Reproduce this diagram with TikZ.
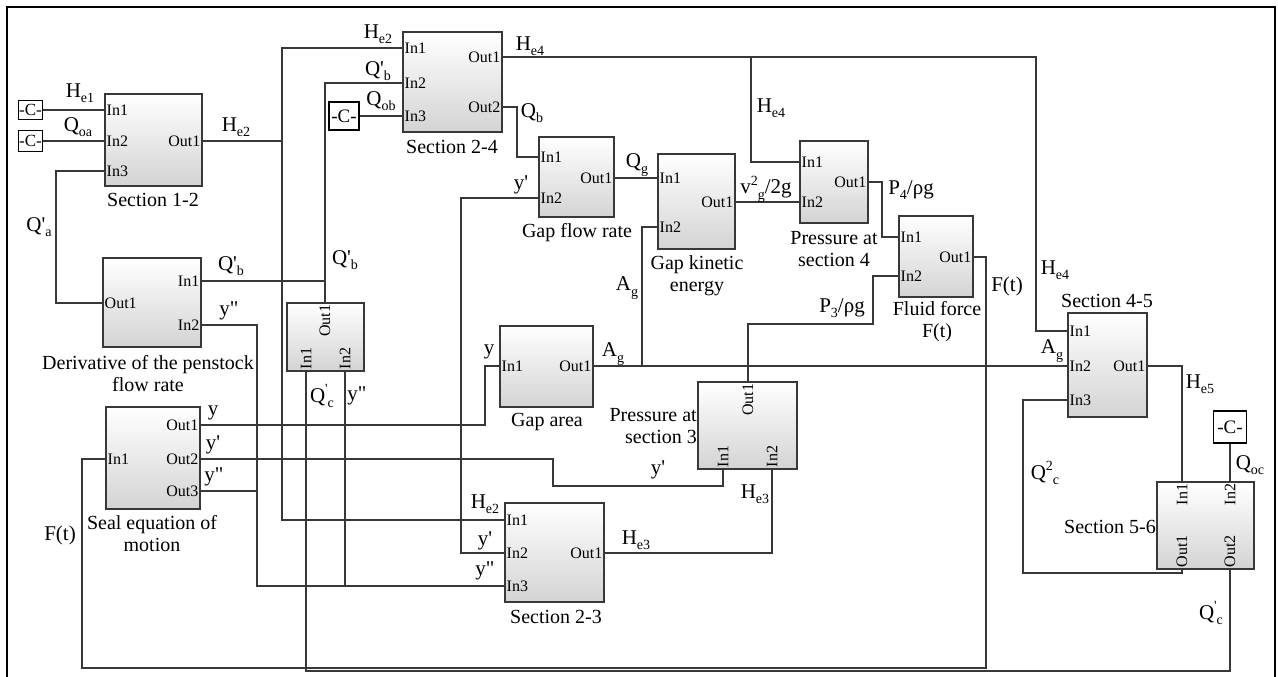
\documentclass[tikz,border=0pt]{standalone}
\usepackage{fontspec}
\setmainfont{Liberation Serif}
\newcommand\sbs[1]{\raisebox{-0.25em}{\fontsize{14}{14}\selectfont #1}}
\newcommand\sps[1]{\raisebox{0.42em}{\fontsize{14}{14}\selectfont #1}}
\begin{document}
\begin{tikzpicture}[x=1pt,y=-1pt,
  wire/.style={draw=black!78,line width=1.1pt},
  blk/.style={draw=black!78,line width=1.2pt,top color=white,bottom color=black!17,inner sep=0pt},
  cbox/.style={draw=black,line width=1.1pt,fill=white,inner sep=0pt,font=\fontsize{17}{17}\selectfont},
  sig/.style={inner sep=0pt,font=\fontsize{21}{24}\selectfont},
  ttl/.style={inner sep=0pt,align=center,font=\fontsize{20}{22}\selectfont},
  prt/.style={inner sep=1.5pt,font=\fontsize{16}{18}\selectfont},
]
\useasboundingbox (0,0) rectangle (1278,677);
\draw[line width=2.5pt] (7,677) -- (7,7) -- (1275,7) -- (1275,677);

% ---------------- blocks ----------------
\node[blk,minimum width=97pt,minimum height=92pt] (s12) at (153.5,140) {};
\node[blk,minimum width=99pt,minimum height=100pt] (s24) at (452.5,82) {};
\node[blk,minimum width=75pt,minimum height=80pt] (gfr) at (576.5,177) {};
\node[blk,minimum width=77pt,minimum height=95pt] (gke) at (696.5,201.5) {};
\node[blk,minimum width=68pt,minimum height=82pt] (p4) at (834,182) {};
\node[blk,minimum width=74pt,minimum height=81pt] (ff) at (936,256.5) {};
\node[blk,minimum width=79pt,minimum height=104pt] (s45) at (1107.5,365) {};
\node[blk,minimum width=98pt,minimum height=89pt] (der) at (152,302.5) {};
\node[blk,minimum width=77pt,minimum height=68pt] (sm) at (325.5,337) {};
\node[blk,minimum width=93pt,minimum height=81pt] (ga) at (546.5,366.5) {};
\node[blk,minimum width=99pt,minimum height=87pt] (p3) at (747.5,425.5) {};
\node[blk,minimum width=94pt,minimum height=102pt] (seal) at (153,458) {};
\node[blk,minimum width=99pt,minimum height=99pt] (s23) at (554.5,552.5) {};
\node[blk,minimum width=97pt,minimum height=87pt] (s56) at (1205.5,525.5) {};

\node[cbox,minimum width=24pt,minimum height=19pt] (c1) at (30.5,110) {-C-};
\node[cbox,minimum width=24pt,minimum height=21pt] (c2) at (30.5,141) {-C-};
\node[cbox,minimum width=30pt,minimum height=28pt,font=\fontsize{19}{19}\selectfont] (c3) at (344,116) {-C-};
\node[cbox,minimum width=33pt,minimum height=32pt,font=\fontsize{19}{19}\selectfont] (c4) at (1230,427) {-C-};

% ---------------- ports ----------------
\coordinate (s12i1) at (105,110); \coordinate (s12i2) at (105,141); \coordinate (s12i3) at (105,171); \coordinate (s12o1) at (202,141);
\coordinate (s24i1) at (403,48); \coordinate (s24i2) at (403,83); \coordinate (s24i3) at (403,116); \coordinate (s24o1) at (502,57); \coordinate (s24o2) at (502,107);
\coordinate (gfri1) at (539,157); \coordinate (gfri2) at (539,198); \coordinate (gfro1) at (614,178);
\coordinate (gkei1) at (658,178); \coordinate (gkei2) at (658,227); \coordinate (gkeo1) at (735,202);
\coordinate (p4i1) at (800,162); \coordinate (p4i2) at (800,202); \coordinate (p4o1) at (868,182);
\coordinate (ffi1) at (899,237); \coordinate (ffi2) at (899,276); \coordinate (ffo1) at (973,257);
\coordinate (s45i1) at (1068,331); \coordinate (s45i2) at (1068,366); \coordinate (s45i3) at (1068,400); \coordinate (s45o1) at (1147,366);
\coordinate (dero1) at (103,303); \coordinate (deri1) at (201,281); \coordinate (deri2) at (201,325);
\coordinate (smo1) at (325,303); \coordinate (smi1) at (306,371); \coordinate (smi2) at (345,371);
\coordinate (gai1) at (500,366); \coordinate (gao1) at (593,366);
\coordinate (p3o1) at (748,382); \coordinate (p3i1) at (723,469); \coordinate (p3i2) at (772,469);
\coordinate (seali1) at (106,459); \coordinate (sealo1) at (200,425); \coordinate (sealo2) at (200,459); \coordinate (sealo3) at (200,491);
\coordinate (s23i1) at (505,520); \coordinate (s23i2) at (505,553); \coordinate (s23i3) at (505,586); \coordinate (s23o1) at (604,553);
\coordinate (s56i1) at (1182,482); \coordinate (s56i2) at (1230,482); \coordinate (s56o1) at (1182,569); \coordinate (s56o2) at (1230,569);

% port labels (horizontal)
\foreach \n/\p/\t in {a1/s12i1/In1,a2/s12i2/In2,a3/s12i3/In3,b1/s24i1/In1,b2/s24i2/In2,b3/s24i3/In3,
  c1/gfri1/In1,c2/gfri2/In2,d1/gkei1/In1,d2/gkei2/In2,e1/p4i1/In1,e2/p4i2/In2,f1/ffi1/In1,f2/ffi2/In2,
  g1/s45i1/In1,g2/s45i2/In2,g3/s45i3/In3,h1/dero1/Out1,k1/gai1/In1,m1/seali1/In1,
  n1/s23i1/In1,n2/s23i2/In2,n3/s23i3/In3}
  {\node[prt,anchor=west] (pl\n) at (\p) {\t};}
\foreach \n/\p/\t in {a1/s12o1/Out1,b1/s24o1/Out1,b2/s24o2/Out2,c1/gfro1/Out1,d1/gkeo1/Out1,e1/p4o1/Out1,
  f1/ffo1/Out1,g1/s45o1/Out1,h1/deri1/In1,h2/deri2/In2,k1/gao1/Out1,m1/sealo1/Out1,m2/sealo2/Out2,m3/sealo3/Out3,n1/s23o1/Out1}
  {\node[prt,anchor=east] (pr\n) at (\p) {\t};}
% port labels (vertical)
\foreach \n/\p/\t in {s/smo1/Out1,p/p3o1/Out1,q1/s56i1/In1,q2/s56i2/In2}
  {\node[prt,rotate=90,anchor=east] (pt\n) at (\p) {\t};}
\foreach \n/\p/\t in {s1/smi1/In1,s2/smi2/In2,p1/p3i1/In1,p2/p3i2/In2,q1/s56o1/Out1,q2/s56o2/Out2}
  {\node[prt,rotate=90,anchor=west] (pb\n) at (\p) {\t};}

% ---------------- titles ----------------
\node[ttl] (t12) at (153,200) {Section 1-2};
\node[ttl] (t24) at (452,147) {Section 2-4};
\node[ttl] (tgfr) at (577,233) {Gap flow rate};
\node[ttl] (tgke) at (697,276) {Gap kinetic\\energy};
\node[ttl] (tp4) at (834,249) {Pressure at\\section 4};
\node[ttl] (tff) at (937,322) {Fluid force\\F(t)};
\node[ttl] (t45) at (1107,301) {Section 4-5};
\node[ttl] (tder) at (148,374) {Derivative of the penstock\\flow rate};
\node[ttl] (tga) at (547,422) {Gap area};
\node[ttl,align=right,anchor=east] (tp3) at (697,426) {Pressure at\\section 3};
\node[ttl] (tseal) at (152,534) {Seal equation of\\motion};
\node[ttl] (t23) at (556,617) {Section 2-3};
\node[ttl,anchor=east] (t56) at (1156,527) {Section 5-6};

% ---------------- connectors ----------------
\coordinate (hb) at (282,520);
\coordinate (he4c) at (1036,331);
\coordinate (he4b) at (751,162);
\coordinate (qbc) at (517,157);
\coordinate (p4c) at (882,237);
\coordinate (ft1) at (986,668);
\coordinate (ft2) at (82,668);
\coordinate (q2a) at (1023,573);
\coordinate (qc1) at (1230,671);
\coordinate (qa) at (56,303);
\coordinate (ydd) at (257,586);
\coordinate (yc) at (485,425);
\coordinate (yp1) at (553,486);
\coordinate (yp2) at (461,553);
\coordinate (agc) at (642,227);
\coordinate (p3a) at (748,324);
\coordinate (p3b) at (873,276);

\draw[wire] (c1.east) -- (s12i1);
\draw[wire] (c2.east) -- (s12i2);
\draw[wire] (c3.east) -- (s24i3);
\draw[wire] (c4.south) -- (s56i2);
\draw[wire] (s24i1) -| (hb) -- (s23i1);
\draw[wire] (s12o1) -- (s12o1 -| hb);
\draw[wire] (s24i2) -| (smo1);
\draw[wire] (deri1) -- (deri1 -| smo1);
\draw[wire] (s24o1) -| (he4c) -- (s45i1);
\draw[wire] (he4b |- s24o1) -- (he4b) -- (p4i1);
\draw[wire] (s24o2) -| (qbc) -- (gfri1);
\draw[wire] (gfro1) -- (gkei1);
\draw[wire] (gkeo1) -- (p4i2);
\draw[wire] (p4o1) -| (p4c) -- (ffi1);
\draw[wire] (ffo1) -| (ft1) -- (ft2) |- (seali1);
\draw[wire] (s45o1) -| (s56i1);
\draw[wire] (s56o1) |- (q2a) |- (s45i3);
\draw[wire] (s56o2) -- (qc1) -| (smi1);
\draw[wire] (dero1) -- (qa) |- (s12i3);
\draw[wire] (deri2) -| (ydd) -- (s23i3);
\draw[wire] (sealo3) -- (sealo3 -| ydd);
\draw[wire] (smi2) -- (smi2 |- ydd);
\draw[wire] (sealo1) -- (yc) |- (gai1);
\draw[wire] (sealo2) -| (yp1) -| (p3i1);
\draw[wire] (gfri2) -| (yp2) -- (s23i2);
\draw[wire] (gao1) -- (s45i2);
\draw[wire] (agc |- gao1) -- (agc) -- (gkei2);
\draw[wire] (p3o1) -- (p3a) -| (p3b) -- (ffi2);
\draw[wire] (s23o1) -| (p3i2);

% ---------------- signal labels ----------------
\node[sig] (l1) at (80,93) {H\sbs{e1}};
\node[sig] (l2) at (78,127) {Q\sbs{oa}};
\node[sig] (l3) at (236,127) {H\sbs{e2}};
\node[sig] (l4) at (378,34) {H\sbs{e2}};
\node[sig] (l5) at (378,71) {Q\textquotesingle\sbs{b}};
\node[sig] (l6) at (381,101) {Q\sbs{ob}};
\node[sig] (l7) at (530,46) {H\sbs{e4}};
\node[sig] (l8) at (532,113) {Q\sbs{b}};
\node[sig] (l9) at (771,108) {H\sbs{e4}};
\node[sig] (l10) at (637,165) {Q\sbs{g}};
\node[sig] (l11) at (521,185) {y\textquotesingle};
\node[sig] (l12) at (766,189) {v\sps{2}\sbs{g}/2g};
\node[sig] (l13) at (911,190) {P\sbs{4}/ρg};
\node[sig] (l14) at (1055,270) {H\sbs{e4}};
\node[sig] (l15) at (1007,286) {F(t)};
\node[sig] (l16) at (842,308) {P\sbs{3}/ρg};
\node[sig] (l17) at (39,227) {Q\textquotesingle\sbs{a}};
\node[sig] (l18) at (231,266) {Q\textquotesingle\sbs{b}};
\node[sig] (l19) at (345,260) {Q\textquotesingle\sbs{b}};
\node[sig] (l20) at (229,311) {y\textquotedbl};
\node[sig] (l21) at (627,288) {A\sbs{g}};
\node[sig] (l22) at (613,354) {A\sbs{g}};
\node[sig] (l23) at (489,352) {y};
\node[sig] (l24) at (1052,351) {A\sbs{g}};
\node[sig] (l25) at (1200,384) {H\sbs{e5}};
\node[sig] (l26) at (322,396) {Q\sps{\textquotesingle}\sbs{c}};
\node[sig] (l27) at (357,396) {y\textquotedbl};
\node[sig] (l28) at (213,413) {y};
\node[sig] (l29) at (213,445) {y\textquotesingle};
\node[sig] (l30) at (214,477) {y\textquotedbl};
\node[sig] (l31) at (1250,465) {Q\sbs{oc}};
\node[sig] (l32) at (1045,473) {Q\sps{2}\sbs{c}};
\node[sig] (l33) at (658,470) {y\textquotesingle};
\node[sig] (l34) at (755,494) {H\sbs{e3}};
\node[sig] (l35) at (485,504) {H\sbs{e2}};
\node[sig] (l36) at (60,535) {F(t)};
\node[sig] (l37) at (636,540) {H\sbs{e3}};
\node[sig] (l38) at (485,541) {y\textquotesingle};
\node[sig] (l39) at (485,571) {y\textquotedbl};
\node[sig] (l40) at (1211,613) {Q\sps{\textquotesingle}\sbs{c}};
\end{tikzpicture}
\end{document}
